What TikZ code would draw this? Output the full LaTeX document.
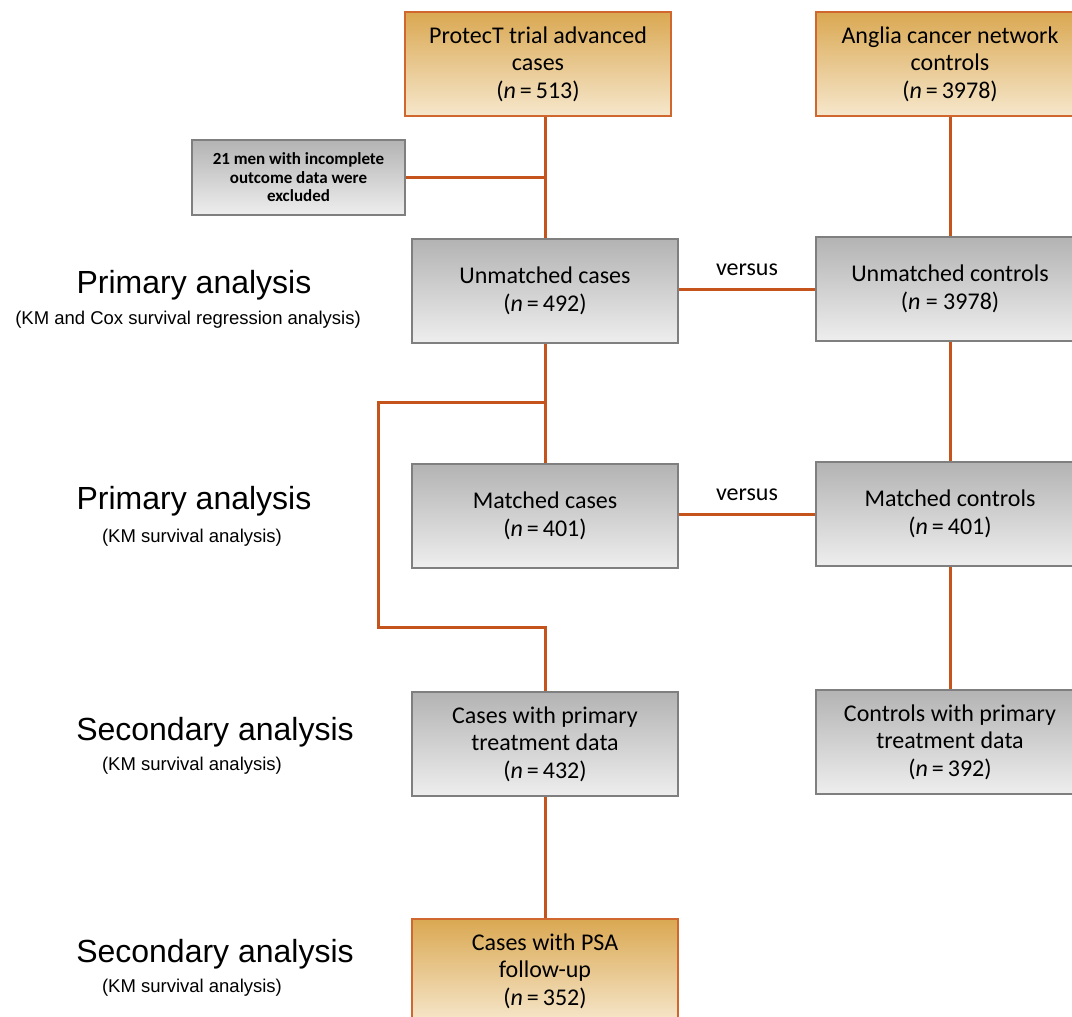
\documentclass[tikz,border=0pt]{standalone}
\usepackage{fontspec}
\setmainfont{Liberation Sans}
\newfontfamily\calib{Carlito}
\definecolor{linkorange}{HTML}{C4541C}
\definecolor{orangeedge}{HTML}{D0672E}
\definecolor{orangetop}{HTML}{DAA852}
\definecolor{orangebot}{HTML}{F6E7CC}
\definecolor{grayedge}{HTML}{7F7F7F}
\definecolor{graytop}{HTML}{B3B3B3}
\definecolor{graybot}{HTML}{EEEEEE}
\begin{document}
\begin{tikzpicture}[x=1pt,y=-1pt,
    graybox/.style={draw=grayedge, line width=1.5pt, top color=graytop, bottom color=graybot,
      minimum width=266pt, minimum height=104pt, inner sep=0pt, align=center,
      font=\calib\fontsize{24}{27.5}\selectfont},
    orangebox/.style={graybox, draw=orangeedge, top color=orangetop, bottom color=orangebot},
    link/.style={draw=linkorange, line width=3pt},
    versuslabel/.style={above=8pt, font=\calib\fontsize{24}{28}\selectfont},
    bigtitle/.style={anchor=base, font=\fontsize{32}{38}\selectfont},
    subtitle/.style={anchor=base, font=\fontsize{18.5}{22}\selectfont}]
    \useasboundingbox (0,0) rectangle (1072,1017);
    \clip (0,0) rectangle (1072,1017);

    % left column
    \node[orangebox] (protect) at (538,64) {ProtecT trial advanced\\cases\\(\textit{n}\,=\,513)};
    \node[graybox, minimum width=213pt, minimum height=75pt, font=\calib\bfseries\fontsize{17}{18.5}\selectfont]
        (excl) at (298.5,177.5) {21 men with incomplete\\outcome data were\\excluded};
    \node[graybox] (uncases) at (545,291) {Unmatched cases\\(\textit{n}\,=\,492)};
    \node[graybox] (mcases) at (545,516) {Matched cases\\(\textit{n}\,=\,401)};
    \node[graybox] (trcases) at (545,744) {Cases with primary\\treatment data\\(\textit{n}\,=\,432)};
    \node[orangebox] (psacases) at (545,971) {Cases with PSA\\follow-up\\(\textit{n}\,=\,352)};

    % right column
    \node[orangebox, minimum width=268pt] (anglia) at (950,64) {Anglia cancer network\\controls\\(\textit{n}\,=\,3978)};
    \node[graybox, minimum width=268pt] (unctrls) at (950,289) {Unmatched controls\\(\textit{n} = 3978)};
    \node[graybox, minimum width=268pt] (mctrls) at (950,514) {Matched controls\\(\textit{n}\,=\,401)};
    \node[graybox, minimum width=268pt] (trctrls) at (950,742) {Controls with primary\\treatment data\\(\textit{n}\,=\,392)};

    % analysis labels
    \node[bigtitle] (prim1) at (194,293) {Primary analysis};
    \node[subtitle] (prim1sub) at (188,324) {(KM and Cox survival regression analysis)};
    \node[bigtitle] (prim2) at (194,509) {Primary analysis};
    \node[subtitle] (prim2sub) at (192,542) {(KM survival analysis)};
    \node[bigtitle] (sec1) at (215,740) {Secondary analysis};
    \node[subtitle] (sec1sub) at (192,770) {(KM survival analysis)};
    \node[bigtitle] (sec2) at (215,962) {Secondary analysis};
    \node[subtitle] (sec2sub) at (192,992) {(KM survival analysis)};

    \coordinate (brtop) at (545,402);
    \coordinate (brleft1) at (378,402);
    \coordinate (brleft2) at (378,627);
    \coordinate (brbot) at (545,627);

    \draw[link] (uncases.north) -- (uncases.north |- protect.south);
    \draw[link] (excl.east) -- (excl.east -| uncases.north);
    \draw[link] (uncases.south) -- (mcases.north);
    \draw[link] (brtop) -- (brleft1) -- (brleft2) -- (brbot) -- (trcases.north);
    \draw[link] (trcases.south) -- (psacases.north);
    \draw[link] (anglia.south) -- (unctrls.north);
    \draw[link] (unctrls.south) -- (mctrls.north);
    \draw[link] (mctrls.south) -- (trctrls.north);
    \draw[link] (uncases.east |- 0,289) -- node[versuslabel] {versus} (unctrls.west |- 0,289);
    \draw[link] (mcases.east |- 0,514) -- node[versuslabel] {versus} (mctrls.west |- 0,514);
\end{tikzpicture}
\end{document}
